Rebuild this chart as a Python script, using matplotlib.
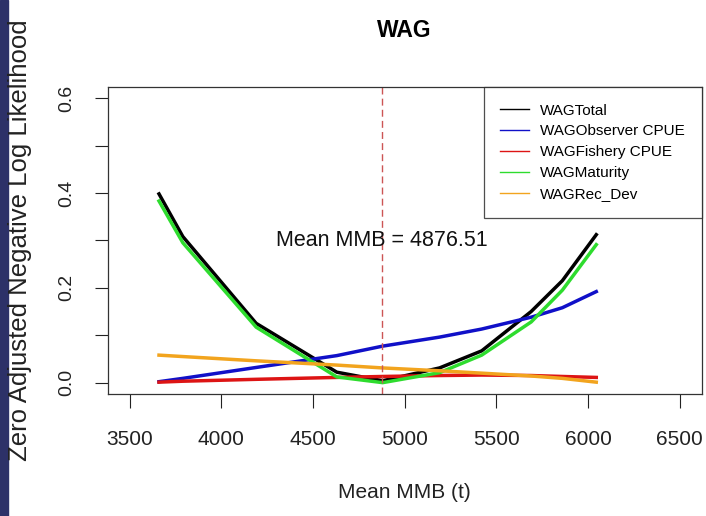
import matplotlib
matplotlib.use("Agg")
import matplotlib.pyplot as plt
from matplotlib.patches import Rectangle

# likelihood profile over mean MMB (t)
mmb = [3660, 3790, 4190, 4630, 4880, 5190, 5420, 5690, 5860, 6045]
total = [0.398, 0.308, 0.125, 0.022, 0.004, 0.031, 0.067, 0.150, 0.215, 0.312]
observer_cpue = [0.002, 0.009, 0.032, 0.057, 0.077, 0.096, 0.113, 0.138, 0.158, 0.192]
fishery_cpue = [0.001, 0.003, 0.007, 0.011, 0.013, 0.015, 0.016, 0.015, 0.013, 0.011]
maturity = [0.383, 0.295, 0.117, 0.012, 0.000, 0.021, 0.058, 0.128, 0.195, 0.291]
rec_dev = [0.058, 0.055, 0.046, 0.037, 0.031, 0.025, 0.020, 0.014, 0.009, 0.001]

series = [
    ("WAGTotal", total, "black"),
    ("WAGObserver CPUE", observer_cpue, "#1010c8"),
    ("WAGFishery CPUE", fishery_cpue, "#dd1414"),
    ("WAGMaturity", maturity, "#2edc2e"),
    ("WAGRec_Dev", rec_dev, "#f2a41e"),
]
mean_mmb = 4876.51
xticks = [3500, 4000, 4500, 5000, 5500, 6000, 6500]
yticks = [0.0, 0.1, 0.2, 0.3, 0.4, 0.5, 0.6]
ytick_labels = ["0.0", "", "0.2", "", "0.4", "", "0.6"]

font = ["Liberation Sans", "DejaVu Sans"]

fig = plt.figure(figsize=(7.06, 5.16), dpi=100)
fig.patches.append(Rectangle((0, 0), 8 / 706, 1, transform=fig.transFigure,
                             color="#2d3168", zorder=0))
ax = fig.add_axes([0.1525, 0.2364, 0.8414, 0.5955])

for name, vals, col in series:
    ax.plot(mmb, vals, color=col, lw=2.5, label=name)

ax.axvline(mean_mmb, color="#cc5555", lw=1, ls=(0, (5, 3)))
ax.text(mean_mmb, 0.3, "Mean MMB = %.2f" % mean_mmb, ha="center", va="center",
        fontsize=15.5, family=font, color="#111111")

ax.set_xlim(3380, 6620)
ax.set_ylim(-0.024, 0.624)
ax.set_xticks(xticks)
ax.set_xticklabels([str(x) for x in xticks], family=font, fontsize=15)
ax.set_yticks(yticks)
ax.set_yticklabels(ytick_labels, family=font, fontsize=14, rotation=90, va="center")
ax.tick_params(axis="x", direction="out", length=10, width=0.8, pad=16, colors="#222222")
ax.tick_params(axis="y", direction="out", length=9.5, width=0.8, pad=14, colors="#222222")
for s in ax.spines.values():
    s.set_linewidth(0.9)
    s.set_color("#333333")

leg = ax.legend(loc="upper right", bbox_to_anchor=(1, 1), borderaxespad=0,
                prop={"family": font, "size": 11}, frameon=True, fancybox=False,
                edgecolor="#222222", handlelength=1.9, handletextpad=0.7,
                labelspacing=0.45, borderpad=1.1)
leg.get_frame().set_linewidth(0.9)
for line in leg.get_lines():
    line.set_linewidth(1.0)

fig.text(0.5732, 0.94, "WAG", ha="center", va="center", fontsize=16.5,
         fontweight="bold", family=font)
fig.text(0.5732, 0.045, "Mean MMB (t)", ha="center", va="center", fontsize=15,
         family=font, color="#222222")
fig.text(0.029, 0.535, "Zero Adjusted Negative Log Likelihood", ha="center", va="center",
         rotation=90, fontsize=18.5, family=font, color="#222222")

fig.savefig("out.png", dpi=100)
